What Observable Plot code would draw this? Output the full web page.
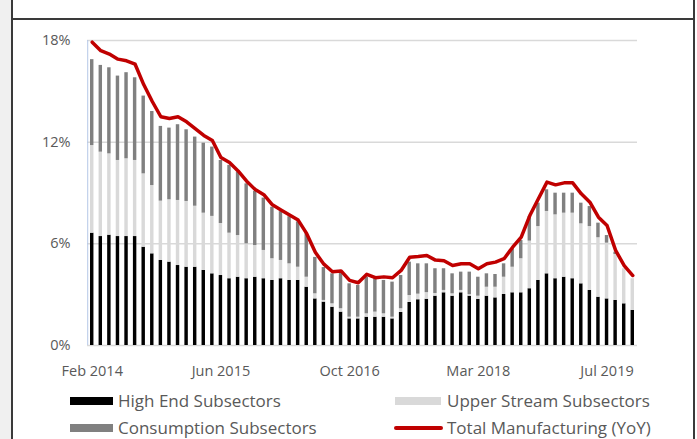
<!DOCTYPE html>
<html><head><meta charset="utf-8">
<script src="https://cdn.jsdelivr.net/npm/d3@7"></script>
<script src="https://cdn.jsdelivr.net/npm/@observablehq/plot@0.6"></script>
<style>
body{margin:0;width:697px;height:439px;position:relative;overflow:hidden;background:#fff;font-family:"Open Sans",sans-serif;}
#strip{position:absolute;left:0;top:0;width:11px;height:439px;background:#f0f0f0}
#lv{position:absolute;left:11px;top:0;width:2px;height:439px;background:#3a3a3a}
#rv{position:absolute;left:693px;top:0;width:2px;height:439px;background:#3a3a3a}
#ht{position:absolute;left:11px;top:18px;width:684px;height:2px;background:#3a3a3a}
#chart{position:absolute;left:0;top:0}
.leg{position:absolute;font-size:17px;color:#595959;line-height:18px;white-space:nowrap}
.sw{position:absolute}
</style></head><body>
<div id="strip"></div><div id="lv"></div><div id="rv"></div><div id="ht"></div>
<div id="chart"></div>
<div class="sw" style="left:70px;top:397px;width:43px;height:8px;background:#000"></div>
<div class="leg" style="left:118px;top:392px">High End Subsectors</div>
<div class="sw" style="left:70px;top:424px;width:43px;height:8px;background:#808080"></div>
<div class="leg" style="left:118px;top:419px">Consumption Subsectors</div>
<div class="sw" style="left:395px;top:397px;width:46px;height:8px;background:#d9d9d9"></div>
<div class="leg" style="left:447px;top:392px">Upper Stream Subsectors</div>
<div class="sw" style="left:394px;top:426px;width:49px;height:4px;border-radius:2px;background:#c00000"></div>
<div class="leg" style="left:447px;top:419px">Total Manufacturing (YoY)</div>
<script>
const categories = [
 "Feb 2014","Mar 2014","Apr 2014","May 2014","Jun 2014","Jul 2014","Aug 2014","Sep 2014","Oct 2014","Nov 2014","Dec 2014",
 "Feb 2015","Mar 2015","Apr 2015","May 2015","Jun 2015","Jul 2015","Aug 2015","Sep 2015","Oct 2015","Nov 2015","Dec 2015",
 "Feb 2016","Mar 2016","Apr 2016","May 2016","Jun 2016","Jul 2016","Aug 2016","Sep 2016","Oct 2016","Nov 2016","Dec 2016",
 "Feb 2017","Mar 2017","Apr 2017","May 2017","Jun 2017","Jul 2017","Aug 2017","Sep 2017","Oct 2017","Nov 2017","Dec 2017",
 "Feb 2018","Mar 2018","Apr 2018","May 2018","Jun 2018","Jul 2018","Aug 2018","Sep 2018","Oct 2018","Nov 2018","Dec 2018",
 "Feb 2019","Mar 2019","Apr 2019","May 2019","Jun 2019","Jul 2019","Aug 2019","Sep 2019","Oct 2019"
];
const highEnd = [6.63,6.43,6.51,6.43,6.43,6.43,5.80,5.41,5.02,4.92,4.72,4.62,4.62,4.43,4.23,4.13,3.94,4.03,3.94,4.03,3.94,3.84,3.94,3.84,3.84,3.44,2.75,2.56,2.26,1.97,1.57,1.57,1.67,1.67,1.67,1.57,1.95,2.54,2.70,2.73,2.91,3.11,2.91,3.11,2.91,2.72,2.91,2.81,3.01,3.11,3.11,3.35,3.84,4.23,3.94,4.03,3.94,3.64,3.25,2.85,2.75,2.66,2.46,2.07];
const upperStream = [5.17,4.98,4.80,4.49,4.59,4.49,4.33,4.03,3.50,3.68,3.84,3.88,3.60,3.38,3.39,3.07,2.69,2.46,2.06,1.87,1.67,1.28,1.08,0.98,0.78,0.59,0.30,0.10,0.20,0.20,0.10,0.10,0.20,0.30,0.20,0.10,0.22,0.41,0.33,0.39,0.16,0.14,0.14,0.14,0.09,0.19,0.53,0.63,1.02,1.51,2.01,2.81,3.18,3.68,3.77,3.78,3.87,3.54,3.77,3.51,3.29,2.71,2.07,1.87];
const consumption = [5.07,5.12,5.08,4.98,5.08,4.88,4.59,4.37,4.41,4.23,4.47,4.23,4.08,4.13,4.09,3.72,4.00,3.74,3.54,3.20,3.09,3.04,2.88,2.78,2.68,2.57,2.15,1.94,1.77,2.13,1.97,1.87,2.16,1.97,1.97,2.07,1.96,1.97,1.79,1.70,1.46,1.28,1.18,1.08,1.33,1.12,0.79,0.75,0.79,1.09,1.08,1.46,1.38,1.28,1.28,1.18,1.18,1.22,1.18,0.86,0.45,0.14,0.00,0.00];
const total = [17.9,17.4,17.2,16.9,16.8,16.6,15.4,14.4,13.5,13.4,13.5,13.2,12.8,12.4,12.1,11.1,10.8,10.3,9.7,9.2,8.9,8.3,8.0,7.7,7.4,6.6,5.5,4.8,4.35,4.4,3.84,3.7,4.2,4.0,4.05,4.0,4.43,5.21,5.25,5.31,5.04,5.0,4.72,4.82,4.82,4.53,4.82,4.92,5.12,5.8,6.39,7.67,8.66,9.64,9.48,9.6,9.6,8.95,8.46,7.57,7.08,5.61,4.72,4.13];
const seriesNames = ["High End Subsectors","Upper Stream Subsectors","Consumption Subsectors"];
const seriesColors = ["#000000","#d9d9d9","#808080"];
const xTicks = ["Feb 2014","Jun 2015","Oct 2016","Mar 2018","Jul 2019"];
const yTicks = [0,6,12,18];

const series = [highEnd, upperStream, consumption];
const rows = [];
categories.forEach((c,i) => series.forEach((s,k) => rows.push({month:c, series:seriesNames[k], value:s[i]})));
const lineRows = categories.map((c,i) => ({month:c, value:total[i]}));

const chart = Plot.plot({
  width: 697, height: 385,
  marginTop: 40, marginBottom: 40, marginLeft: 87, marginRight: 60,
  style: {background:"transparent", fontFamily:"Open Sans", fontSize:"14px", color:"#595959"},
  x: {type:"band", domain:categories, paddingInner:0.6, paddingOuter:0.35, label:null},
  y: {domain:[0,18], label:null},
  color: {domain:seriesNames, range:seriesColors},
  marks: [
    Plot.ruleY(yTicks, {stroke:"#d9d9d9", strokeWidth:1.5}),
    Plot.ruleX([0], {x: () => categories[0], dx:-4.5, y1:0, y2:18, stroke:"#b4c7e7", strokeWidth:1}),
    Plot.barY(rows, Plot.stackY({x:"month", y:"value", fill:"series", order:null})),
    Plot.line(lineRows, {x:"month", y:"value", stroke:"#c00000", strokeWidth:3.5, strokeLinejoin:"round", strokeLinecap:"round"}),
    Plot.axisY({ticks:yTicks, tickFormat:d => d + "%", tickSize:0, tickPadding:17, fontSize:14.5, label:null}),
    Plot.axisX({ticks:xTicks, tickSize:0, tickPadding:20, fontSize:14.5, label:null})
  ]
});
document.getElementById("chart").appendChild(chart);
</script>
</body></html>
